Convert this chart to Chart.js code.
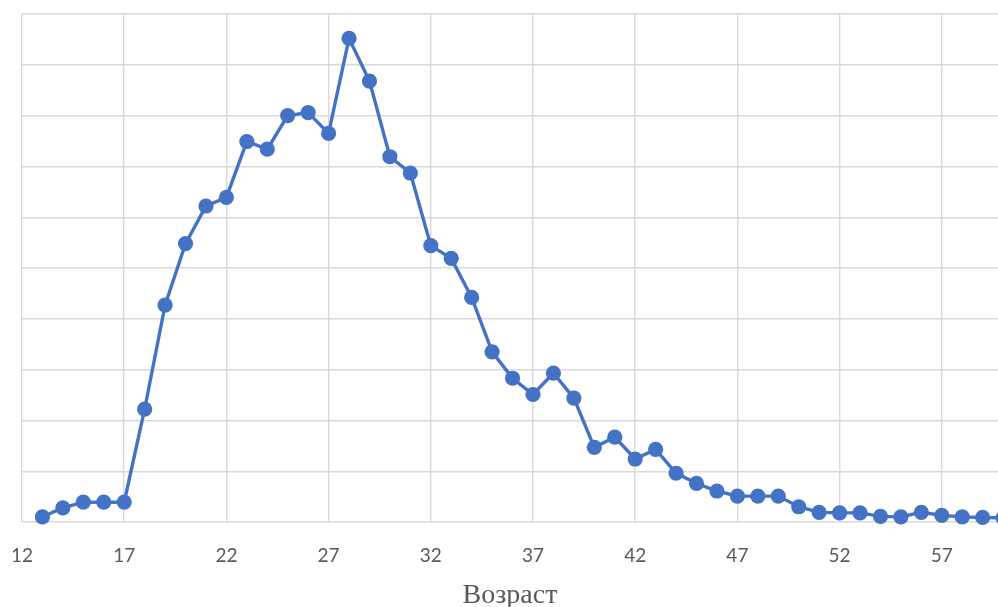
<!DOCTYPE html>
<html>
<head>
<meta charset="utf-8">
<script src="https://cdn.jsdelivr.net/npm/chart.js@4/dist/chart.umd.min.js"></script>
<style>
  html, body { margin: 0; padding: 0; background: #ffffff; overflow: hidden; }
  #wrap { width: 998px; height: 607px; position: relative; overflow: hidden; }
  canvas { display: block; }
</style>
</head>
<body>
<div id="wrap"><canvas id="c"></canvas></div>
<script>
const ages = [13,14,15,16,17,18,19,20,21,22,23,24,25,26,27,28,29,30,31,32,33,34,35,36,37,38,39,40,41,42,43,44,45,46,47,48,49,50,51,52,53,54,55,56,57,58,59,60];
const values = [0.10,0.28,0.39,0.39,0.39,2.22,4.27,5.48,6.22,6.39,7.49,7.34,8.00,8.06,7.65,9.52,8.68,7.19,6.87,5.44,5.19,4.42,3.35,2.83,2.51,2.93,2.44,1.47,1.67,1.24,1.43,0.96,0.76,0.61,0.51,0.51,0.51,0.30,0.19,0.18,0.18,0.11,0.10,0.19,0.13,0.10,0.09,0.08];
const xTickLabels = [12,17,22,27,32,37,42,47,52,57];
const xTitle = 'Возраст';

new Chart(document.getElementById('c'), {
  type: 'line',
  data: {
    datasets: [{
      data: ages.map((a, i) => ({ x: a, y: values[i] })),
      borderColor: '#4472C4',
      backgroundColor: '#4472C4',
      borderWidth: 3.4,
      pointRadius: 7.6,
      pointBorderWidth: 0,
      pointBackgroundColor: '#4472C4',
      tension: 0,
      clip: false
    }]
  },
  options: {
    responsive: true,
    maintainAspectRatio: false,
    animation: false,
    layout: { autoPadding: false, padding: { left: 22, top: 14, right: 0, bottom: 0 } },
    plugins: { legend: { display: false }, tooltip: { enabled: false } },
    scales: {
      x: {
        type: 'linear',
        min: 12,
        max: 59.75,
        afterBuildTicks: (scale) => { scale.ticks = xTickLabels.map(v => ({ value: v })); },
        afterFit: (scale) => { scale.height = 85; scale.paddingLeft = 0; scale.paddingRight = 0; },
        grid: { color: '#d9d9d9', lineWidth: 1.4, drawTicks: false },
        border: { display: false },
        ticks: {
          autoSkip: false,
          maxRotation: 0,
          padding: 22,
          color: '#595959',
          font: { family: 'Lato', size: 19 }
        },
        title: {
          display: true,
          text: xTitle,
          color: '#595959',
          font: { family: 'Liberation Serif', size: 28, lineHeight: 0.8 },
          padding: { top: 0, bottom: 0 }
        }
      },
      y: {
        min: 0,
        max: 10,
        afterFit: (scale) => { scale.width = 0; scale.paddingTop = 0; scale.paddingBottom = 0; },
        ticks: { stepSize: 1, display: false },
        grid: { color: '#d9d9d9', lineWidth: 1.4, drawTicks: false },
        border: { display: false }
      }
    }
  }
});
</script>
</body>
</html>
